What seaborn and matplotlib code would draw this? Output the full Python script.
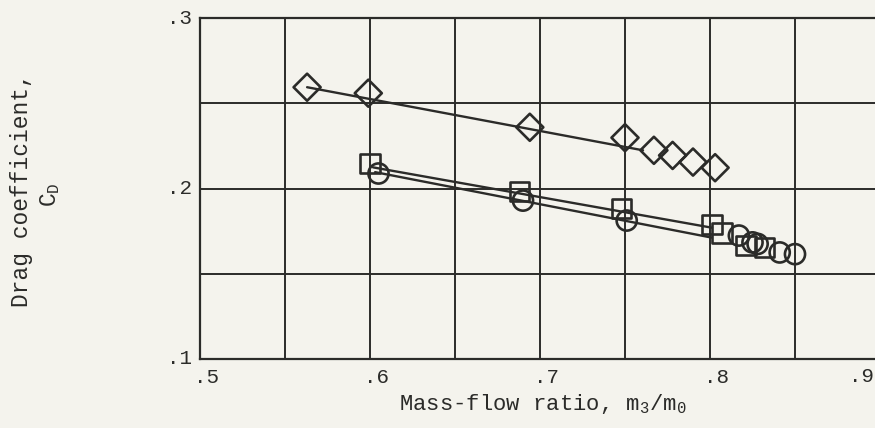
import matplotlib
matplotlib.use("Agg")
import matplotlib.pyplot as plt
import seaborn as sns
import pandas as pd

# ---- data ----
diamond_x = [0.563, 0.599, 0.694, 0.750, 0.767, 0.778, 0.790, 0.803]
diamond_y = [0.2594, 0.2559, 0.2359, 0.2298, 0.2224, 0.2194, 0.2155, 0.2122]

square_x = [0.600, 0.688, 0.748, 0.801, 0.807, 0.821, 0.832]
square_y = [0.2147, 0.1982, 0.1882, 0.1788, 0.1738, 0.1665, 0.1655]

circle_x = [0.605, 0.690, 0.751, 0.817, 0.825, 0.828, 0.841, 0.850]
circle_y = [0.2088, 0.1929, 0.1812, 0.1724, 0.1684, 0.1675, 0.1625, 0.1615]

# faired straight lines (end points)
fair_diamond_x = [0.563, 0.7606]
fair_diamond_y = [0.2594, 0.2224]
fair_square_x = [0.6018, 0.8012]
fair_square_y = [0.2124, 0.1770]
fair_circle_x = [0.603, 0.801]
fair_circle_y = [0.2096, 0.1712]

x_ticks = [0.5, 0.6, 0.7, 0.8]
x_tick_labels = [".5", ".6", ".7", ".8"]
edge_tick_label = ".9"
y_ticks = [0.1, 0.2, 0.3]
y_tick_labels = [".1", ".2", ".3"]

# ---- style ----
BG = "#f4f3ed"
INK = "#2b2b29"
sns.set_theme(style="white")
plt.rcParams["font.family"] = ["Liberation Mono", "DejaVu Sans Mono"]
plt.rcParams["mathtext.fontset"] = "custom"
plt.rcParams["mathtext.rm"] = "Liberation Mono"
plt.rcParams["mathtext.it"] = "Liberation Mono"

fig = plt.figure(figsize=(8.75, 4.28), dpi=100, facecolor=BG)
ax = fig.add_axes([200 / 875, 1 - 359 / 428, 680 / 875, 341 / 428])
ax.set_facecolor(BG)

lines = pd.concat([
    pd.DataFrame({"x": fair_diamond_x, "y": fair_diamond_y, "s": "d"}),
    pd.DataFrame({"x": fair_square_x, "y": fair_square_y, "s": "s"}),
    pd.DataFrame({"x": fair_circle_x, "y": fair_circle_y, "s": "o"}),
])
sns.lineplot(data=lines, x="x", y="y", units="s", estimator=None, sort=False,
             color=INK, lw=1.7, ax=ax, legend=False, zorder=3)

pts = pd.concat([
    pd.DataFrame({"x": diamond_x, "y": diamond_y, "m": "D"}),
    pd.DataFrame({"x": square_x, "y": square_y, "m": "s"}),
    pd.DataFrame({"x": circle_x, "y": circle_y, "m": "o"}),
])
marker_map = {"D": "D", "s": "s", "o": "o"}
size_map = {"D": 190, "s": 200, "o": 210}
for key, grp in pts.groupby("m"):
    sns.scatterplot(data=grp, x="x", y="y", marker=marker_map[key],
                    s=size_map[key], facecolor="none", edgecolor=INK,
                    linewidth=1.9, ax=ax, legend=False, zorder=4)

ax.set_xlim(0.5, 0.9)
ax.set_ylim(0.1, 0.3)
ax.set_xticks([0.5 + 0.05 * i for i in range(9)])
ax.set_yticks([0.1 + 0.05 * i for i in range(5)])
ax.grid(True, color=INK, lw=1.4)
ax.set_axisbelow(True)
ax.set_xticklabels([])
ax.set_yticklabels([])
ax.tick_params(length=0)
for sp in ["left", "bottom", "top"]:
    ax.spines[sp].set_visible(True)
    ax.spines[sp].set_color(INK)
    ax.spines[sp].set_linewidth(1.6)
ax.spines["right"].set_visible(False)
ax.set_xlabel("")
ax.set_ylabel("")

# tick labels
for v, t in zip(x_ticks, x_tick_labels):
    ax.text(v + 0.004, -0.053, t, transform=ax.get_xaxis_transform(),
            ha="center", va="center", fontsize=15, color=INK)
fig.text(874 / 875, 1 - 377 / 428, edge_tick_label, ha="right", va="center",
         fontsize=15, color=INK)
for v, t in zip(y_ticks, y_tick_labels):
    ax.text(-0.012, v, t, transform=ax.get_yaxis_transform(),
            ha="right", va="center", fontsize=15, color=INK)

fig.text(543 / 875, 1 - 404 / 428, "Mass-flow ratio, m$_3$/m$_0$",
         ha="center", va="center", fontsize=16, color=INK)
fig.text(22 / 875, 1 - 190 / 428, "Drag coefficient,", rotation=90,
         ha="center", va="center", fontsize=16.5, color=INK)
fig.text(50 / 875, 1 - 195 / 428, "C$_D$", rotation=90,
         ha="center", va="center", fontsize=16.5, color=INK)

fig.savefig("out.png", dpi=100, facecolor=BG)
